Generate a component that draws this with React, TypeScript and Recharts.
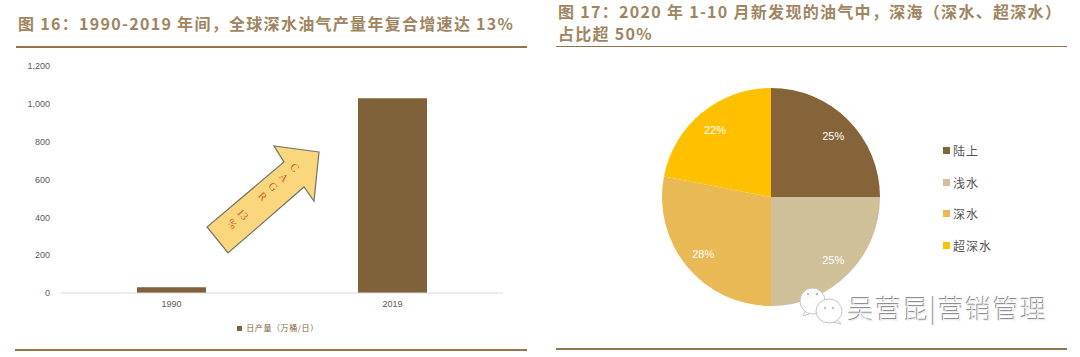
import { BarChart, Bar, XAxis, YAxis, Legend, PieChart, Pie, Cell } from "recharts";

const years = ["1990", "2019"];
const output = [30, 1030];
const yTicks = [0, 200, 400, 600, 800, 1000, 1200];

const pieNames = ["陆上", "浅水", "深水", "超深水"];
const pieValues = [25, 25, 28, 22];
const pieColors = ["#86643a", "#cfc09a", "#e9b955", "#ffc000"];

const cjk = '"Noto Sans CJK SC", "Liberation Sans", sans-serif';
const titleColor = "#a08560";

const barData = years.map((year, i) => ({ year, value: output[i] }));
const pieData = pieNames.map((name, i) => ({ name, value: pieValues[i] }));

function Title({ left, top, children }: { left: number; top: number; children: React.ReactNode }) {
  return (
    <div
      style={{
        position: "absolute",
        left,
        top,
        fontFamily: cjk,
        fontSize: 16,
        lineHeight: "22px",
        fontWeight: 700,
        color: titleColor,
        letterSpacing: 1.3,
        whiteSpace: "nowrap",
      }}
    >
      {children}
    </div>
  );
}

function Rule({ left, top, width, height, color }: { left: number; top: number; width: number; height: number; color: string }) {
  return <div style={{ position: "absolute", left, top, width, height, background: color }} />;
}

function pieLabel({ cx, cy, midAngle, value }: any) {
  const r = 88;
  const a = (midAngle * Math.PI) / 180;
  return (
    <text
      x={cx + r * Math.cos(a)}
      y={cy - r * Math.sin(a) + 1}
      fill="#fff"
      fontSize={11}
      fontFamily="Liberation Sans"
      textAnchor="middle"
      dominantBaseline="central"
    >
      {value}%
    </text>
  );
}

function PieLegend() {
  return (
    <div style={{ fontFamily: cjk, fontSize: 12, color: "#555" }}>
      {pieNames.map((name, i) => (
        <div key={name} style={{ display: "flex", alignItems: "center", height: 31.5, letterSpacing: 1 }}>
          <span style={{ width: 7, height: 7, background: pieColors[i], marginRight: 3 }} />
          {name}
        </div>
      ))}
    </div>
  );
}

export default function App() {
  return (
    <div style={{ position: "absolute", left: 0, top: 0, width: 1080, height: 357, background: "#fff", overflow: "hidden" }}>
      <Title left={18} top={12}>图 16：1990-2019 年间，全球深水油气产量年复合增速达 13%</Title>
      <Title left={558} top={0}>
        图 17：2020 年 1-10 月新发现的油气中，深海（深水、超深水）
        <br />
        占比超 50%
      </Title>
      <Rule left={16} top={46} width={511} height={2} color="#94734a" />
      <Rule left={556} top={46} width={511} height={1} color="#94734a" />
      <Rule left={15} top={349} width={512} height={2} color="#94734a" />
      <Rule left={556} top={348} width={511} height={2} color="#94734a" />

      <div style={{ position: "absolute", left: 0, top: 0 }}>
        <BarChart width={540} height={357} data={barData} margin={{ top: 66, right: 37, bottom: 24, left: 0 }}>
          <XAxis
            dataKey="year"
            tickLine={false}
            axisLine={{ stroke: "#d9d9d9" }}
            height={20}
            tick={{ fontSize: 9, fill: "#595959", fontFamily: "Liberation Sans" }}
          />
          <YAxis
            width={61}
            domain={[0, 1200]}
            ticks={yTicks}
            axisLine={false}
            tickLine={false}
            tickMargin={5}
            tickFormatter={(v: number) => v.toLocaleString("en-US")}
            tick={{ fontSize: 9, fill: "#595959", fontFamily: "Liberation Sans" }}
          />
          <Legend
            iconType="square"
            iconSize={5}
            height={20}
            wrapperStyle={{ left: 198, width: 170, bottom: 15, fontSize: 8, fontFamily: cjk, color: "#595959", letterSpacing: 0.6 }}
          />
          <Bar dataKey="value" name="日产量（万桶/日）" fill="#7f6239" barSize={69} isAnimationActive={false} />
        </BarChart>
      </div>

      {/* CAGR arrow sits over the bar chart */}
      <svg width={540} height={357} style={{ position: "absolute", left: 0, top: 0 }}>
        <polygon
          points="319,152 274,146 284,162 207,227 228,253 304,187 314,201"
          fill="#fad67c"
          stroke="#6f7468"
          strokeWidth={1.2}
        />
        <g transform="translate(263,196) rotate(48)" fill="#cf5a2a" fontSize={11} fontFamily="Liberation Serif" textAnchor="middle">
          <text x={0} y={-39}>C</text>
          <text x={0} y={-24}>A</text>
          <text x={0} y={-10}>G</text>
          <text x={0} y={4}>R</text>
          <text x={0} y={31}>13</text>
          <text x={0} y={45}>%</text>
        </g>
      </svg>

      <div style={{ position: "absolute", left: 540, top: 0 }}>
        <PieChart width={540} height={357} margin={{ top: 0, right: 0, bottom: 0, left: 0 }}>
          <Pie
            data={pieData}
            dataKey="value"
            nameKey="name"
            cx={231}
            cy={197}
            outerRadius={109}
            startAngle={90}
            endAngle={-270}
            stroke="none"
            label={pieLabel}
            labelLine={false}
            isAnimationActive={false}
          >
            {pieData.map((d, i) => (
              <Cell key={d.name} fill={pieColors[i]} />
            ))}
          </Pie>
          <Legend content={PieLegend} wrapperStyle={{ position: "absolute", left: 403, top: 135, width: 100 }} />
        </PieChart>
      </div>

      {/* watermark */}
      <svg width={50} height={44} style={{ position: "absolute", left: 795, top: 285 }} stroke="#c4c4c4" strokeWidth={1}>
        <path d="M10 27 L8 31 L14 29" fill="#fff" />
        <ellipse cx={17.5} cy={16} rx={12.5} ry={13} fill="#fff" fillOpacity={0.92} />
        <path d="M42 34 L46 39 L38 37" fill="#fff" />
        <ellipse cx={34} cy={26} rx={13} ry={12} fill="#fff" fillOpacity={0.92} />
        <circle cx={13} cy={9} r={1} fill="#aaa" stroke="none" />
        <circle cx={22} cy={9} r={1} fill="#aaa" stroke="none" />
        <circle cx={30} cy={23} r={1} fill="#aaa" stroke="none" />
        <circle cx={38} cy={23} r={1} fill="#aaa" stroke="none" />
      </svg>
      <div
        style={{
          position: "absolute",
          left: 848,
          top: 292,
          fontFamily: cjk,
          fontSize: 26,
          lineHeight: "32px",
          fontWeight: 300,
          color: "#ececec",
          letterSpacing: 1.4,
          textShadow: "-1px -1px 0 #8f8f8f",
          whiteSpace: "nowrap",
        }}
      >
        吴营昆|营销管理
      </div>
    </div>
  );
}
